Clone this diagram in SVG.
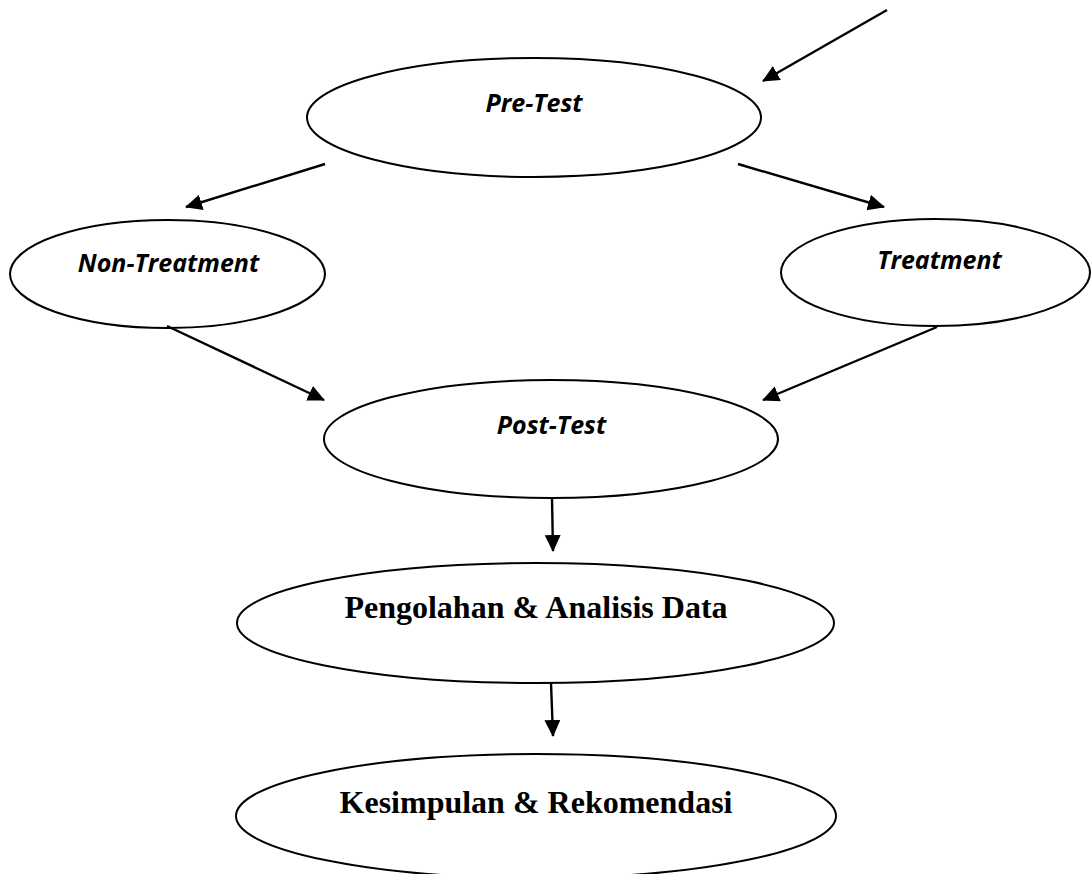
<svg xmlns="http://www.w3.org/2000/svg" width="1091" height="874" viewBox="0 0 1091 874">
  <style>
    .node ellipse { fill: #ffffff; stroke: #000000; stroke-width: 2; }
    .lbl { font-family: "Open Sans", "Liberation Sans", sans-serif; font-weight: bold; font-style: italic; font-size: 25px; fill: #000; text-anchor: middle; }
    .lbl2 { font-family: "Liberation Serif", "Times New Roman", serif; font-weight: bold; font-size: 32px; fill: #000; text-anchor: middle; }
    .conn line { stroke: #000; stroke-width: 2.4; marker-end: url(#ah); }
  </style>
  <defs>
    <marker id="ah" markerUnits="userSpaceOnUse" markerWidth="18" markerHeight="17" refX="16" refY="8" orient="auto" viewBox="0 0 18 17">
      <path d="M0,0 L17,8 L0,16 Z" fill="#000"/>
    </marker>
  </defs>
  <rect width="1091" height="874" fill="#ffffff"/>

  <g id="node-pretest" class="node">
    <ellipse cx="534" cy="117.5" rx="227" ry="59.5"/>
    <text class="lbl" x="534" y="112">Pre-Test</text>
  </g>
  <g id="node-nontreatment" class="node">
    <ellipse cx="167.5" cy="274" rx="157.5" ry="54"/>
    <text class="lbl" x="168.5" y="272">Non-Treatment</text>
  </g>
  <g id="node-treatment" class="node">
    <ellipse cx="935.5" cy="272.5" rx="154.5" ry="53.5"/>
    <text class="lbl" x="939.5" y="269">Treatment</text>
  </g>
  <g id="node-posttest" class="node">
    <ellipse cx="551" cy="439" rx="227" ry="59"/>
    <text class="lbl" x="551.5" y="434">Post-Test</text>
  </g>
  <g id="node-pengolahan" class="node">
    <ellipse cx="535.5" cy="623" rx="298.5" ry="60"/>
    <text class="lbl2" x="536" y="618">Pengolahan &amp; Analisis Data</text>
  </g>
  <g id="node-kesimpulan" class="node">
    <ellipse cx="536" cy="816" rx="300" ry="62"/>
    <text class="lbl2" x="536" y="813">Kesimpulan &amp; Rekomendasi</text>
  </g>

  <g id="connectors" class="conn">
    <line x1="887" y1="10" x2="763" y2="81"/>
    <line x1="325" y1="164" x2="186" y2="207"/>
    <line x1="738" y1="164" x2="884" y2="207"/>
    <line x1="167" y1="326" x2="324" y2="400"/>
    <line x1="937" y1="327" x2="763" y2="400"/>
    <line x1="552" y1="498" x2="553" y2="551"/>
    <line x1="551" y1="683" x2="553" y2="736"/>
  </g>
</svg>
